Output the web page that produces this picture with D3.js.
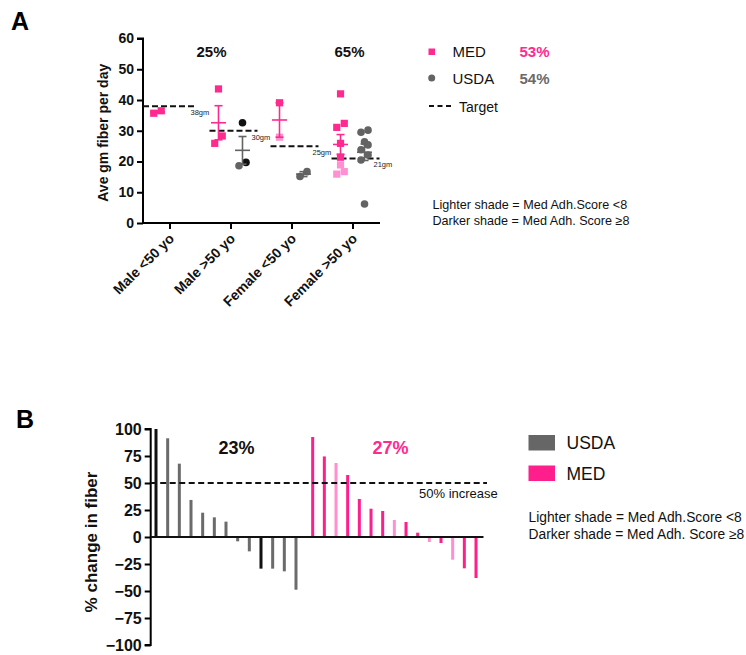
<!DOCTYPE html>
<html>
<head>
<meta charset="utf-8">
<script src="https://cdn.jsdelivr.net/npm/d3@7"></script>
<style>
  html, body { margin: 0; padding: 0; background: #fff; }
  svg { display: block; font-family: "Liberation Sans", Arial, Helvetica, sans-serif; }
</style>
</head>
<body>
<svg id="chart" width="746" height="655"></svg>
<script>
// ---------- Panel A data ----------
const groupsA = ["Male <50 yo", "Male >50 yo", "Female <50 yo", "Female >50 yo"];
const targetsA = [38, 30, 25, 21];
const targetLabelsA = ["38gm", "30gm", "25gm", "21gm"];
// MED (squares): value, shade (D = darker, L = lighter)
const medMaleU50 = [[35.7, "D"], [36.5, "D"]];
const medMaleO50 = [[43.6, "D"], [25.9, "D"], [28.3, "D"]];
const medFemaleU50 = [[39.1, "D"], [27.9, "L"]];
const medFemaleO50 = [[42.0, "D"], [31.1, "D"], [32.4, "D"], [25.9, "D"], [21.4, "D"], [18.9, "L"], [15.9, "L"], [16.7, "L"]];
// USDA (circles)
const usdaMaleU50 = [];
const usdaMaleO50 = [[32.6, "D"], [19.7, "D"], [18.6, "L"]];
const usdaFemaleU50 = [[15.1, "L"], [16.7, "L"]];
const usdaFemaleO50 = [[30.2, "L"], [29.5, "L"], [26.4, "L"], [25.4, "L"], [23.8, "L"], [22.1, "L"], [20.5, "L"], [6.2, "L"]];
const yTicksA = [0, 10, 20, 30, 40, 50, 60];
const pctNotesA = [["Male >50 yo", "25%"], ["Female >50 yo", "65%"]];

// ---------- Panel B data ----------
const usdaChange = [100, 91.4, 67.9, 34.3, 22.5, 18.2, 14.2, -4.0, -13.3, -29.3, -29.3, -31.8, -48.8];
const usdaShade  = ["D", "L", "L", "L", "L", "L", "L", "L", "L", "D", "L", "L", "L"];
const medChange = [92.6, 74.6, 68.5, 57.4, 35.2, 26.2, 24.1, 15.7, 13.9, 4.0, -4.6, -5.6, -21.0, -29.0, -38.0];
const medShade  = ["D", "D", "L", "D", "D", "D", "D", "L", "D", "D", "L", "D", "L", "D", "D"];
const yTicksB = [-100, -75, -50, -25, 0, 25, 50, 75, 100];
const targetB = 50;

// ---------- styles ----------
const COL = {
  medD: "#ff2a8f", medL: "#ff90d2",
  usdaD: "#111111", usdaL: "#636363",
  medBarD: "#ff1f8c", medBarL: "#ff8fd0",
  usdaBarD: "#111111", usdaBarL: "#6b6b6b",
  medText: "#ff2a8f", usdaText: "#6a6a6a"
};

const svg = d3.select("#chart");

// =================== PANEL A ===================
const yA = d3.scaleLinear().domain([0, 60]).range([223, 38.5]);
const xA = d3.scalePoint().domain(groupsA).range([143, 379]).padding(0.434);
const gA = svg.append("g");

svg.append("text").attr("x", 11).attr("y", 30).attr("font-size", 25).attr("font-weight", "bold").text("A");

// y axis
const yAxisA = gA.append("g").attr("transform", "translate(143,0)")
  .call(d3.axisLeft(yA).tickValues(yTicksA).tickSize(6).tickPadding(3));
yAxisA.select(".domain").attr("stroke-width", 2).attr("d", `M-6,${yA(60)}H0V${yA(0)}`);
yAxisA.selectAll(".tick line").attr("stroke-width", 2);
yAxisA.selectAll("text").attr("font-size", 14).attr("font-weight", "bold").attr("fill", "#111");

// x axis
const xAxisA = gA.append("g").attr("transform", `translate(0,${yA(0)})`)
  .call(d3.axisBottom(xA).tickSize(6).tickFormat(""));
xAxisA.select(".domain").attr("stroke-width", 2).attr("d", `M143,0H380`);
xAxisA.selectAll(".tick line").attr("stroke-width", 2);
gA.selectAll(".xlabA").data(groupsA).enter().append("text")
  .attr("transform", d => `translate(${xA(d) + 2},${yA(0) + 13}) rotate(-45)`)
  .attr("text-anchor", "end").attr("dy", "0.35em")
  .attr("font-size", 14).attr("font-weight", "bold").attr("fill", "#111")
  .text(d => d);

// y title
gA.append("text")
  .attr("transform", `translate(108,${(yA(0) + yA(60)) / 2 + 2}) rotate(-90)`)
  .attr("text-anchor", "middle")
  .attr("font-size", 14).attr("font-weight", "bold").attr("fill", "#111")
  .text("Ave gm fiber per day");

// target lines
targetsA.forEach((t, i) => {
  const cx = xA(groupsA[i]);
  const x0 = i === 0 ? 143 : cx - 21;
  gA.append("line").attr("x1", x0).attr("x2", cx + 27).attr("y1", yA(t)).attr("y2", yA(t))
    .attr("stroke", "#111").attr("stroke-width", 2).attr("stroke-dasharray", "6,3");
  gA.append("text").attr("x", cx + 21).attr("y", yA(t) + 9)
    .attr("font-size", 7.5).attr("fill", "#222").text(targetLabelsA[i]);
});

// beeswarm-like row layout
function layout(points, centerX, step) {
  const sorted = points.map(p => ({ v: p[0], s: p[1] })).sort((a, b) => a.v - b.v);
  const rows = [];
  sorted.forEach(p => {
    const last = rows[rows.length - 1];
    if (last && Math.abs(yA(last[0].v) - yA(p.v)) < 7.5) last.push(p);
    else rows.push([p]);
  });
  rows.forEach(r => r.forEach((p, k) => { p.x = centerX + (k - (r.length - 1) / 2) * step; }));
  return sorted;
}
function stats(points) {
  const v = points.map(p => p[0]);
  const m = d3.mean(v);
  const sem = v.length > 1 ? d3.deviation(v) / Math.sqrt(v.length) : 0;
  return { m, sem };
}
function drawErr(points, cx, color) {
  if (points.length < 2) return;
  const { m, sem } = stats(points);
  const g = gA.append("g").attr("stroke", color).attr("stroke-width", 1.6);
  g.append("line").attr("x1", cx).attr("x2", cx).attr("y1", yA(m + sem)).attr("y2", yA(m - sem));
  g.append("line").attr("x1", cx - 7.5).attr("x2", cx + 7.5).attr("y1", yA(m)).attr("y2", yA(m));
  g.append("line").attr("x1", cx - 4).attr("x2", cx + 4).attr("y1", yA(m + sem)).attr("y2", yA(m + sem));
  g.append("line").attr("x1", cx - 4).attr("x2", cx + 4).attr("y1", yA(m - sem)).attr("y2", yA(m - sem));
}

const medA = [medMaleU50, medMaleO50, medFemaleU50, medFemaleO50];
const usdaA = [usdaMaleU50, usdaMaleO50, usdaFemaleU50, usdaFemaleO50];
groupsA.forEach((g, i) => {
  const cm = xA(g) - 12, cu = xA(g) + 12;
  // MED
  const pm = layout(medA[i], cm, 7.5);
  gA.selectAll(null).data(pm).enter().append("rect")
    .attr("x", d => d.x - 3.6).attr("y", d => yA(d.v) - 3.6).attr("width", 7.2).attr("height", 7.2)
    .attr("fill", d => d.s === "D" ? COL.medD : COL.medL);
  drawErr(medA[i], cm, COL.medD);
  // USDA
  const pu = layout(usdaA[i], cu, 7);
  gA.selectAll(null).data(pu).enter().append("circle")
    .attr("cx", d => d.x).attr("cy", d => yA(d.v)).attr("r", 3.8)
    .attr("fill", d => d.s === "D" ? COL.usdaD : COL.usdaL);
  drawErr(usdaA[i], cu, COL.usdaL);
});

// percent notes
const noteDx = { "Male >50 yo": -19, "Female >50 yo": -3 };
pctNotesA.forEach(([g, t]) => {
  gA.append("text").attr("x", xA(g) + noteDx[g]).attr("y", 57).attr("text-anchor", "middle")
    .attr("font-size", 15).attr("font-weight", "bold").attr("fill", "#111").text(t);
});

// legend A
const lgA = svg.append("g");
lgA.append("rect").attr("x", 428.5).attr("y", 48.5).attr("width", 6.5).attr("height", 6.5).attr("fill", COL.medD);
lgA.append("text").attr("x", 452.5).attr("y", 57).attr("font-size", 15).attr("fill", "#111").text("MED");
lgA.append("text").attr("x", 519.5).attr("y", 57).attr("font-size", 15).attr("font-weight", "bold").attr("fill", COL.medText).text("53%");
lgA.append("circle").attr("cx", 431.7).attr("cy", 78).attr("r", 3.5).attr("fill", COL.usdaL);
lgA.append("text").attr("x", 452.5).attr("y", 83.5).attr("font-size", 15).attr("fill", "#111").text("USDA");
lgA.append("text").attr("x", 519.5).attr("y", 83.5).attr("font-size", 15).attr("font-weight", "bold").attr("fill", COL.usdaText).text("54%");
lgA.append("line").attr("x1", 429).attr("x2", 452).attr("y1", 106).attr("y2", 106)
  .attr("stroke", "#111").attr("stroke-width", 2).attr("stroke-dasharray", "5,3.5");
lgA.append("text").attr("x", 459).attr("y", 111.5).attr("font-size", 14).attr("fill", "#111").text("Target");
lgA.append("text").attr("x", 432.5).attr("y", 208.5).attr("font-size", 12.6).attr("fill", "#111").text("Lighter shade = Med Adh.Score <8");
lgA.append("text").attr("x", 432.5).attr("y", 224.5).attr("font-size", 12.6).attr("fill", "#111").text("Darker shade = Med Adh. Score \u22658");

// =================== PANEL B ===================
const yB = d3.scaleLinear().domain([-100, 100]).range([645, 429]);
const groupGap = 1.43;
const barsB = usdaChange.map((v, i) => ({ v, s: usdaShade[i], grp: "USDA", idx: i }))
  .concat(medChange.map((v, j) => ({ v, s: medShade[j], grp: "MED", idx: usdaChange.length - 1 + groupGap + j })));
const xB = d3.scaleLinear().domain([0, d3.max(barsB, d => d.idx)]).range([156, 476]);
const gB = svg.append("g");

svg.append("text").attr("x", 16).attr("y", 427.5).attr("font-size", 25).attr("font-weight", "bold").text("B");

const yAxisB = gB.append("g").attr("transform", "translate(150.7,0)")
  .call(d3.axisLeft(yB).tickValues(yTicksB).tickSize(6).tickPadding(3));
yAxisB.select(".domain").attr("stroke-width", 2).attr("d", `M-6,${yB(100)}H0V${yB(-100)}H-6`);
yAxisB.selectAll(".tick line").attr("stroke-width", 2);
yAxisB.selectAll("text").attr("font-size", 16).attr("font-weight", "bold").attr("fill", "#111");

gB.append("text")
  .attr("transform", `translate(97,${yB(0) + 5}) rotate(-90)`)
  .attr("text-anchor", "middle")
  .attr("font-size", 17).attr("font-weight", "bold").attr("fill", "#111")
  .text("% change in fiber");

// bars
const barW = 3;
gB.selectAll(".barB").data(barsB).enter().append("rect")
  .attr("x", d => xB(d.idx) - barW / 2)
  .attr("y", d => yB(Math.max(0, d.v)))
  .attr("width", barW)
  .attr("height", d => Math.abs(yB(d.v) - yB(0)))
  .attr("fill", d => d.grp === "USDA" ? (d.s === "D" ? COL.usdaBarD : COL.usdaBarL) : (d.s === "D" ? COL.medBarD : COL.medBarL));

// zero line
gB.append("line").attr("x1", 150.7).attr("x2", 483.5).attr("y1", yB(0)).attr("y2", yB(0))
  .attr("stroke", "#111").attr("stroke-width", 2);
// 50% line
gB.append("line").attr("x1", 150.7).attr("x2", 487).attr("y1", yB(targetB)).attr("y2", yB(targetB))
  .attr("stroke", "#111").attr("stroke-width", 2).attr("stroke-dasharray", "6,3.5");
gB.append("text").attr("x", 419).attr("y", 498).attr("font-size", 13).attr("fill", "#111").text("50% increase");

gB.append("text").attr("x", 236.5).attr("y", 453.5).attr("text-anchor", "middle")
  .attr("font-size", 18).attr("font-weight", "bold").attr("fill", "#111").text("23%");
gB.append("text").attr("x", 390.5).attr("y", 453.5).attr("text-anchor", "middle")
  .attr("font-size", 18).attr("font-weight", "bold").attr("fill", COL.medText).text("27%");

// legend B
const lgB = svg.append("g");
lgB.append("rect").attr("x", 528.5).attr("y", 435).attr("width", 26.5).attr("height", 15.5).attr("fill", "#666");
lgB.append("text").attr("x", 566.5).attr("y", 448.5).attr("font-size", 17.5).attr("fill", "#111").text("USDA");
lgB.append("rect").attr("x", 528.5).attr("y", 465.5).attr("width", 26.5).attr("height", 15.5).attr("fill", COL.medBarD);
lgB.append("text").attr("x", 566.5).attr("y", 480).attr("font-size", 17.5).attr("fill", "#111").text("MED");
lgB.append("text").attr("x", 528.5).attr("y", 521.5).attr("font-size", 13.8).attr("fill", "#111").text("Lighter shade = Med Adh.Score <8");
lgB.append("text").attr("x", 528.5).attr("y", 538.5).attr("font-size", 13.8).attr("fill", "#111").text("Darker shade = Med Adh. Score \u22658");
</script>
</body>
</html>
